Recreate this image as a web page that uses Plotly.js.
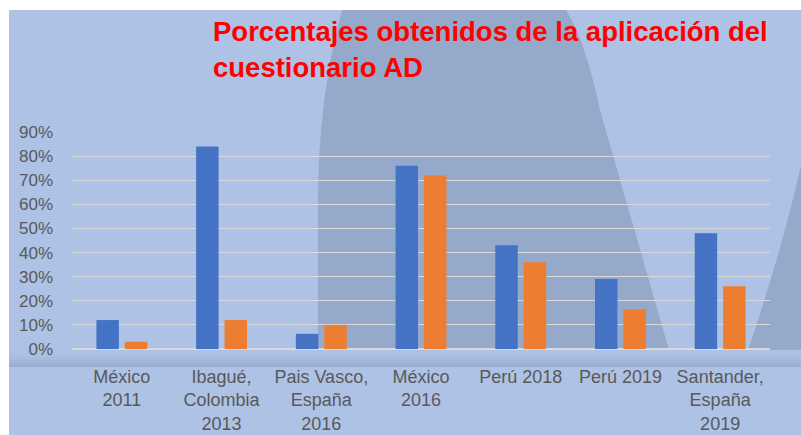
<!DOCTYPE html>
<html>
<head>
<meta charset="utf-8">
<script src="https://cdn.plot.ly/plotly-3.0.1.min.js"></script>
<style>
  html, body { margin: 0; padding: 0; background: #ffffff; }
  #wrap { position: relative; width: 801px; height: 435px; overflow: hidden; }
  #bg { position: absolute; left: 0; top: 0; }
  #chart { position: absolute; left: 0; top: 0; width: 801px; height: 435px; }
</style>
</head>
<body>
<div id="wrap">
  <svg id="bg" width="801" height="435" xmlns="http://www.w3.org/2000/svg">
    <defs>
      <linearGradient id="band" x1="0" y1="0" x2="0" y2="1">
        <stop offset="0" stop-color="#aec2e5" stop-opacity="0"/>
        <stop offset="1" stop-color="#97abcf" stop-opacity="1"/>
      </linearGradient>
    </defs>
    <rect x="0" y="0" width="801" height="435" fill="#ffffff"/>
    <rect x="9" y="10" width="792" height="425" fill="#aec2e5"/>
    <path d="M 342,10 Q 318,100 318,200 L 318,350 L 669,350 L 600,110 Q 585,40 566,10 Z" fill="#95a9cb"/>
    <path d="M 801,165 Q 782,250 748,350 L 801,350 Z" fill="#95a9cb"/>
    <rect x="9" y="349" width="792" height="18" fill="url(#band)"/>
  </svg>
  <div id="chart"></div>
</div>
<script>
// Categories (x tick labels, with line breaks as drawn)
var categories = [
  'México<br>2011',
  'Ibagué,<br>Colombia<br>2013',
  'Pais Vasco,<br>España<br>2016',
  'México<br>2016',
  'Perú 2018',
  'Perú 2019',
  'Santander,<br>España<br>2019'
];
// Series values (fractions, shown as %)
var serie1 = [0.12, 0.84, 0.063, 0.76, 0.43, 0.29, 0.48];
var serie2 = [0.03, 0.12, 0.10, 0.72, 0.36, 0.165, 0.26];
var yTickVals = [0, 0.1, 0.2, 0.3, 0.4, 0.5, 0.6, 0.7, 0.8, 0.9];

var traces = [
  { type: 'bar', name: 'Serie 1', x: categories, y: serie1,
    marker: { color: '#4472c4' }, hoverinfo: 'none' },
  { type: 'bar', name: 'Serie 2', x: categories, y: serie2,
    marker: { color: '#ed7d31' }, hoverinfo: 'none' }
];

var layout = {
  width: 801, height: 435,
  paper_bgcolor: 'rgba(0,0,0,0)',
  plot_bgcolor: 'rgba(0,0,0,0)',
  margin: { l: 72, r: 31, t: 132, b: 86, pad: 0 },
  showlegend: false,
  barmode: 'group',
  bargap: 0.43,
  bargroupgap: 0.21,
  title: {
    text: 'Porcentajes obtenidos de la aplicación del<br>cuestionario AD',
    font: { family: 'Liberation Sans, Arial, sans-serif', size: 27.5, color: '#ff0000', weight: 'bold' },
    x: 213 / 801, xref: 'container', xanchor: 'left',
    y: 1 - 41 / 435, yref: 'container', yanchor: 'top',
    align: 'left'
  },
  xaxis: {
    type: 'category',
    showgrid: false, zeroline: false,
    showline: false, ticks: '',
    tickfont: { family: 'Liberation Sans, Arial, sans-serif', size: 18, color: '#595959' },
    ticklabelstandoff: 15,
    fixedrange: true
  },
  yaxis: {
    range: [0, 0.9],
    tickvals: yTickVals,
    tickformat: '.0%',
    showgrid: true, gridcolor: '#d9d9d9', gridwidth: 1,
    zeroline: true, zerolinecolor: '#d9d9d9', zerolinewidth: 1.5,
    showline: false, ticks: '',
    tickfont: { family: 'Liberation Sans, Arial, sans-serif', size: 17, color: '#595959' },
    ticklabelstandoff: 18,
    fixedrange: true
  }
};

Plotly.newPlot('chart', traces, layout, { displayModeBar: false, staticPlot: true });
</script>
</body>
</html>
